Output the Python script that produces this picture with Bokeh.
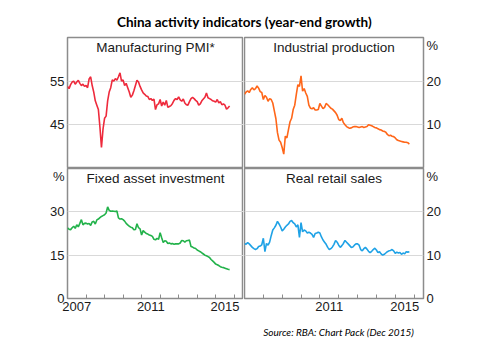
from bokeh.plotting import figure
from bokeh.layouts import column, row
from bokeh.models import Range1d, FixedTicker
from bokeh.core.properties import value
from bokeh.embed import file_html
from bokeh.resources import INLINE

START_YEAR = 2007

pmi = [53.8, 53.3, 54.2, 54.8, 55.0, 54.3, 54.8, 55.2, 54.5, 54.0, 54.3, 53.8,
       54.0, 53.5, 55.5, 56.0, 54.0, 52.5, 50.5, 49.5, 48.5, 44.5, 39.8, 44.0,
       46.5, 47.0, 50.5, 52.5, 53.5, 55.3, 55.0, 55.6, 55.2, 56.0, 56.9, 55.0,
       55.3, 54.0, 54.5, 53.5, 52.5, 51.3, 51.8, 52.8, 54.0, 55.2, 54.8, 53.8,
       53.0, 52.3, 52.0, 51.6, 51.5, 50.8, 51.0, 50.6, 50.9, 48.5, 49.6, 49.8,
       50.8, 49.3, 50.2, 49.5, 50.6, 49.0, 49.2, 49.4, 49.9, 50.6, 51.0, 50.8,
       51.4, 50.7, 50.4, 50.9, 50.0, 49.6, 49.5, 50.3, 51.0, 51.3, 51.0, 50.6,
       50.3, 49.5, 49.8, 50.5, 50.9, 51.3, 52.3, 51.2, 51.0, 50.8, 50.5, 50.4,
       50.2, 50.8, 50.0, 50.3, 49.6, 49.8, 49.5, 48.6, 48.9, 49.3]

ind_prod = [17.0, 17.5, 17.8, 17.4, 18.1, 18.5, 18.0, 18.3, 18.9, 18.4, 17.6, 17.4,
            15.8, 16.7, 16.3, 15.4, 16.0, 15.8, 15.0, 13.2, 11.4, 8.2, 6.5, 6.0,
            4.8, 3.3, 7.4, 7.0, 8.9, 10.7, 11.5, 13.5, 14.5, 17.0, 19.2, 18.8,
            21.2, 17.7, 18.3, 17.3, 16.5, 14.5, 13.8, 13.7, 13.9, 13.4, 13.4, 13.5,
            14.9, 14.3, 13.7, 14.0, 14.9, 14.6, 14.2, 13.8, 13.6, 13.2, 12.8, 12.2,
            11.2, 11.0, 11.5, 10.5, 10.0, 9.6, 9.4, 9.2, 9.3, 9.5, 9.6, 9.6,
            9.5, 9.4, 9.5, 9.6, 9.4, 9.5, 9.6, 10.0, 9.9, 9.8, 9.6, 9.4,
            9.3, 9.1, 8.9, 8.8, 8.6, 8.5, 8.3, 7.8, 7.5, 7.6, 7.4, 7.3,
            7.0, 6.6, 6.4, 6.3, 6.2, 6.1, 6.0, 6.0, 5.9, 5.6]

fixed_inv = [24.4, 24.0, 23.8, 24.5, 25.0, 24.3, 25.5, 24.8, 26.0, 27.3, 25.5, 26.0,
             26.1, 25.8, 26.0, 25.3, 26.5, 26.7, 25.8, 27.2, 27.5, 28.0, 28.4, 28.7,
             29.0, 29.6, 31.7, 30.5, 30.2, 30.3, 30.2, 30.1, 30.3, 27.9, 27.5, 27.6,
             27.3, 26.8, 26.0, 25.5, 25.0, 24.7, 24.5, 23.8, 23.9, 25.9, 24.5, 24.1,
             22.0, 23.5, 23.0, 22.5, 22.3, 22.0, 21.8, 21.5, 20.5, 20.3, 20.8, 20.5,
             22.8, 21.0, 19.4, 20.0, 19.8, 19.0, 19.2, 18.9, 19.0, 18.8, 18.9, 18.9,
             18.9, 19.2, 20.1, 20.0, 19.5, 20.0, 20.1, 20.2, 18.0, 17.8, 17.5, 17.3,
             16.8, 16.5, 16.2, 15.8, 15.4, 15.0, 14.8, 14.5, 14.2, 13.5, 13.0, 12.5,
             11.9, 11.7, 11.4, 11.0, 10.8, 10.7, 10.5, 10.3, 10.1, 10.0]

retail = [12.7, 12.5, 12.9, 12.6, 12.2, 11.8, 11.5, 11.3, 11.5, 12.0, 12.1, 12.4,
          13.9, 10.8, 12.7, 12.3, 13.0, 14.5, 15.8, 16.3, 16.9, 17.8, 17.2, 16.5,
          15.6, 16.0, 16.5, 16.9, 17.2, 17.8, 18.0, 17.5, 17.2, 16.5, 17.0, 14.1,
          17.5, 15.4, 15.8, 15.6, 15.1, 15.3, 15.1, 14.8, 14.1, 15.0, 15.1, 15.3,
          15.1, 14.2, 13.5, 13.0, 12.5, 11.8, 11.3, 11.5, 11.9, 12.5, 13.4, 13.0,
          12.3, 11.8, 12.2, 12.7, 13.4, 13.0, 12.6, 12.2, 11.8, 11.9, 12.3, 12.6,
          12.6, 12.3, 11.3, 11.0, 11.5, 11.8, 11.4, 10.9, 10.6, 10.9, 11.3, 11.6,
          11.2, 10.6, 10.8, 10.3, 10.0, 10.2, 10.5, 10.8, 11.0, 11.1, 11.3, 11.0,
          10.4, 10.7, 10.5, 10.6, 10.2, 10.5, 10.3, 10.8, 10.7, 10.8]

year_label_pos = [2007.5, 2011.5, 2015.5]
year_labels_left = ["2007", "2011", "2015"]
year_labels_right = ["", "2011", "2015"]
year_ticks = [2008, 2009, 2010, 2011, 2012, 2013, 2014, 2015, 2016]

TITLE = "China activity indicators (year-end growth)"
SOURCE = "Source: RBA: Chart Pack (Dec 2015)"

X0, X1 = 2007, 2016.5
FONT = "Liberation Sans"
GRID = "#d9d9d9"
FRAME = "#8c8c8c"
TXT = "#1a1a1a"


def months(n):
    return [START_YEAR + i / 12 for i in range(n)]


def panel(title, vals, color, y0, y1, ticks, side, xlabels, width, height,
          mbl, mbr, mbt, mbb, pct_px=None):
    p = figure(width=width, height=height, x_range=Range1d(X0, X1),
               y_range=Range1d(y0, y1), output_backend="svg",
               toolbar_location=None,
               x_axis_location="below" if xlabels else None,
               y_axis_location=side,
               min_border_left=mbl, min_border_right=mbr,
               min_border_top=mbt, min_border_bottom=mbb)
    p.outline_line_color = FRAME
    p.outline_line_width = 1.5
    p.background_fill_color = "white"
    p.border_fill_color = "white"
    p.xgrid.grid_line_color = None
    p.ygrid.ticker = FixedTicker(ticks=ticks)
    p.ygrid.grid_line_color = GRID
    p.ygrid.grid_line_width = 1.2

    frame_h = height - mbt - mbb
    per_px = (y1 - y0) / frame_h

    yax = p.yaxis[0]
    all_ticks = list(ticks)
    overrides = {}
    if pct_px is not None:
        pct_y = round(y1 - pct_px * per_px, 3)
        all_ticks.append(pct_y)
        overrides[pct_y] = "%"
    yax.ticker = FixedTicker(ticks=all_ticks)
    yax.major_label_overrides = overrides
    yax.axis_line_color = None
    yax.major_tick_line_color = None
    yax.major_tick_out = 2
    yax.major_tick_in = 0
    yax.minor_tick_line_color = None
    yax.major_label_standoff = 1
    yax.major_label_text_font = FONT
    yax.major_label_text_font_size = "13px"
    yax.major_label_text_color = TXT

    if xlabels:
        xax = p.xaxis[0]
        xax.ticker = FixedTicker(ticks=year_label_pos, minor_ticks=year_ticks)
        xax.major_label_overrides = dict(zip(year_label_pos, xlabels))
        xax.axis_line_color = None
        xax.major_tick_line_color = None
        xax.minor_tick_line_color = FRAME
        xax.minor_tick_in = 4
        xax.minor_tick_out = 0
        xax.major_tick_in = 0
        xax.major_tick_out = 0
        xax.major_label_standoff = 3
        xax.major_label_text_font = FONT
        xax.major_label_text_font_size = "13px"
        xax.major_label_text_color = TXT

    ty = y1 - 10 * per_px
    p.text(x=[(X0 + X1) / 2], y=[ty], text=[title], text_align="center",
           text_baseline="middle", text_font=value(FONT),
           text_font_size="13.5px", text_color=TXT)
    p.line(months(len(vals)), vals, line_color=color, line_width=1.6)
    return p


LW, RW = 243, 257
TH, BH = 133, 152

tl = panel("Manufacturing PMI*", pmi, "#ee2a3c", 35, 65, [45, 55], "left",
           None, LW, TH, 67, 0, 2, 0)
tr = panel("Industrial production", ind_prod, "#ff6619", 0, 30, [10, 20], "right",
           None, RW, TH, 1, 77, 2, 0, pct_px=8)
bl = panel("Fixed asset investment", fixed_inv, "#22b24a", 0, 45, [0, 15, 30], "left",
           year_labels_left, LW, BH, 67, 0, 0, 22, pct_px=7)
br = panel("Real retail sales", retail, "#1fa2e6", 0, 30, [0, 10, 20], "right",
           year_labels_right, RW, BH, 1, 77, 0, 22, pct_px=7)


def text_strip(height, txt, x, y, font, size, style):
    p = figure(width=500, height=height, x_range=Range1d(0, 500),
               y_range=Range1d(0, height), output_backend="svg",
               toolbar_location=None, x_axis_location=None,
               y_axis_location=None, min_border=0)
    p.outline_line_color = None
    p.xgrid.grid_line_color = None
    p.ygrid.grid_line_color = None
    p.text(x=[x], y=[y], text=[txt], text_align="center",
           text_baseline="middle", text_font=value(font),
           text_font_size=size, text_font_style=style, text_color="#000000")
    return p


header = text_strip(35, TITLE, 244, 35 - 21, "Lato", "13.5px", "bold")
footer = text_strip(28, SOURCE, 338, 28 - 11, "Lato", "10px", "italic")

layout = column(header, row(tl, tr), row(bl, br), footer)

with open("out.html", "w") as f:
    f.write(file_html(layout, INLINE))
